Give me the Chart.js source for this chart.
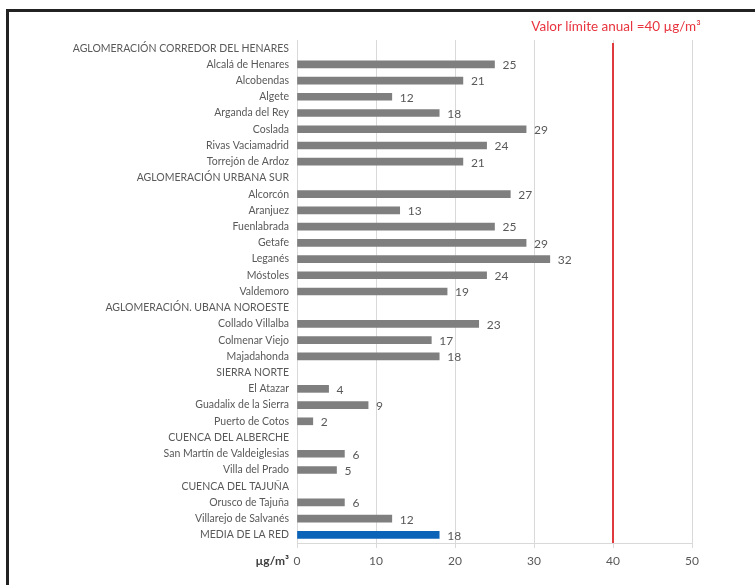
<!DOCTYPE html>
<html>
<head>
<meta charset="utf-8">
<script src="https://cdn.jsdelivr.net/npm/chart.js@4"></script>
<style>
    html, body { margin: 0; padding: 0; background: #fff; }
    #frame {
        position: absolute; left: 6px; top: 9px; width: 746px; height: 600px;
        border-top: 3px solid #222; border-left: 3px solid #222; border-right: 1px solid #ddd;
    }
    #wrap { position: absolute; left: 0; top: 0; width: 755px; height: 585px; }
</style>
</head>
<body>
<div id="frame"></div>
<div id="wrap"><canvas id="chart" width="755" height="585"></canvas></div>
<script>
const categories = [
    'AGLOMERACIÓN CORREDOR DEL HENARES',
    'Alcalá de Henares', 'Alcobendas', 'Algete', 'Arganda del Rey', 'Coslada', 'Rivas Vaciamadrid', 'Torrejón de Ardoz',
    'AGLOMERACIÓN URBANA SUR',
    'Alcorcón', 'Aranjuez', 'Fuenlabrada', 'Getafe', 'Leganés', 'Móstoles', 'Valdemoro',
    'AGLOMERACIÓN. UBANA NOROESTE',
    'Collado Villalba', 'Colmenar Viejo', 'Majadahonda',
    'SIERRA NORTE',
    'El Atazar', 'Guadalix de la Sierra', 'Puerto de Cotos',
    'CUENCA DEL ALBERCHE',
    'San Martín de Valdeiglesias', 'Villa del Prado',
    'CUENCA DEL TAJUÑA',
    'Orusco de Tajuña', 'Villarejo de Salvanés',
    'MEDIA DE LA RED'
];
const values = [
    null, 25, 21, 12, 18, 29, 24, 21,
    null, 27, 13, 25, 29, 32, 24, 19,
    null, 23, 17, 18,
    null, 4, 9, 2,
    null, 6, 5,
    null, 6, 12,
    18
];
const xTicks = [0, 10, 20, 30, 40, 50];
const limitValue = 40;
const limitLabel = 'Valor límite anual =40 µg/m³';
const unitLabel = 'µg/m³';

const FONT = 'Lato, "Open Sans", sans-serif';

const barColors = categories.map(c => c === 'MEDIA DE LA RED' ? '#0b63b8' : '#7f7f7f');

const extras = {
    id: 'extras',
    beforeDatasetsDraw(chart) {
        const { ctx, chartArea, scales } = chart;
        const x = scales.x.getPixelForValue(limitValue);
        ctx.save();
        ctx.strokeStyle = '#e03a3e';
        ctx.lineWidth = 2;
        ctx.beginPath();
        ctx.moveTo(x, chartArea.top + 3);
        ctx.lineTo(x, chartArea.bottom);
        ctx.stroke();
        ctx.restore();
    },
    afterDatasetsDraw(chart) {
        const { ctx, chartArea, scales } = chart;
        const meta = chart.getDatasetMeta(0);
        ctx.save();
        ctx.font = '12px ' + FONT;
        ctx.fillStyle = '#595959';
        ctx.textAlign = 'left';
        ctx.textBaseline = 'middle';
        meta.data.forEach((bar, i) => {
            if (values[i] === null) return;
            ctx.fillText(String(values[i]), bar.x + 8, bar.y + 1);
        });
        // limit label
        ctx.fillStyle = '#e8343f';
        ctx.font = '13.5px ' + FONT;
        ctx.textAlign = 'center';
        ctx.fillText(limitLabel, scales.x.getPixelForValue(limitValue) + 3, 27);
        // unit label
        ctx.fillStyle = '#404040';
        ctx.font = 'bold 12px ' + FONT;
        ctx.textAlign = 'right';
        ctx.fillText(unitLabel, chartArea.left - 8, scales.x.bottom - 24);
        ctx.restore();
    }
};

new Chart(document.getElementById('chart'), {
    type: 'bar',
    data: {
        labels: categories,
        datasets: [{
            data: values,
            backgroundColor: barColors,
            barThickness: 7,
            borderWidth: 0
        }]
    },
    options: {
        indexAxis: 'y',
        responsive: false,
        animation: false,
        devicePixelRatio: 1,
        layout: { padding: { top: 40, right: 63, left: 0, bottom: 0 } },
        plugins: { legend: { display: false }, tooltip: { enabled: false } },
        scales: {
            x: {
                min: 0, max: 50,
                afterBuildTicks(scale) { scale.ticks = xTicks.map(v => ({ value: v })); },
                afterFit(scale) { scale.height = 42; },
                grid: { color: '#d9d9d9', drawTicks: true, tickLength: 5, tickColor: '#d9d9d9' },
                border: { color: '#d9d9d9' },
                ticks: { color: '#595959', font: { family: FONT, size: 12 }, padding: 6 }
            },
            y: {
                afterFit(scale) { scale.width = 297; },
                grid: { display: false, drawTicks: false },
                border: { color: '#d9d9d9' },
                ticks: { color: '#595959', font: { family: FONT, size: 10.5 }, padding: 8, autoSkip: false }
            }
        }
    },
    plugins: [extras]
});
</script>
</body>
</html>
